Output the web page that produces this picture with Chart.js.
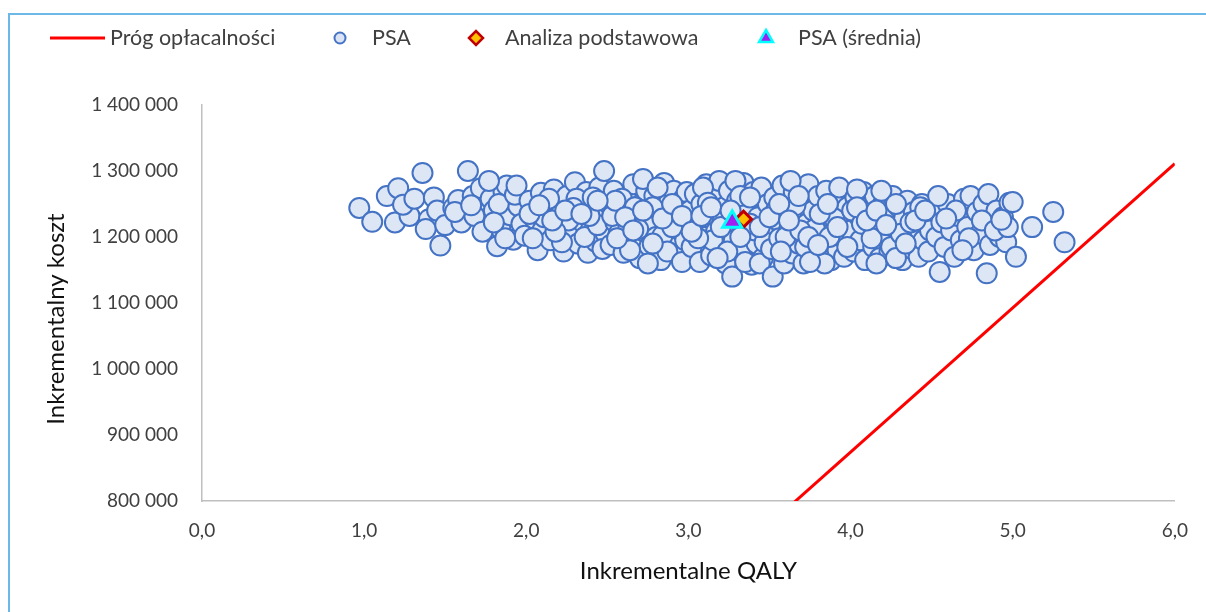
<!DOCTYPE html>
<html lang="pl">
<head>
<meta charset="utf-8">
<title>PSA – płaszczyzna kosztów i efektów</title>
<script src="https://cdn.jsdelivr.net/npm/chart.js@4.4.1/dist/chart.umd.min.js"></script>
<style>
  html, body { margin: 0; padding: 0; background: #fff; }
  #wrap { position: relative; width: 1206px; height: 612px; overflow: hidden; }
  #frame { position: absolute; left: 8px; top: 13px; right: -4px; bottom: -4px;
           border-top: 2px solid #6cb8e6; border-left: 2px solid #6cb8e6; pointer-events: none; }
  canvas { display: block; }
</style>
</head>
<body>
<div id="wrap">
  <canvas id="ce-plane" width="1206" height="612"></canvas>
  <div id="frame"></div>
</div>
<script>
// threshold line endpoints (QALY, PLN)
var lineQaly = [0, 6];
var lineCost = [0, 1311000];

// base case and PSA mean
var baseQaly = [3.34];
var baseCost = [1227000];
var meanQaly = [3.27];
var meanCost = [1223000];

// PSA simulations
var psaQaly = [
  0.97, 1.05, 1.14, 1.21, 1.19, 1.28, 1.24, 1.36, 1.31, 1.43, 1.40, 1.47, 1.45, 1.38, 1.50,
  1.55, 1.58, 1.64, 1.62, 1.67, 1.70, 1.72, 1.75, 1.78, 1.80, 1.82, 1.84, 1.86, 1.88, 1.90, 1.92, 1.95, 1.97, 1.60, 1.68, 1.73, 1.77, 1.83, 1.93, 1.99, 1.56, 1.87, 1.94,
  2.02, 2.05, 2.07, 2.09, 2.10, 2.12, 2.15, 2.17, 2.19, 2.21, 2.23, 2.25, 2.27, 2.28, 2.30, 2.32, 2.33, 2.35, 2.37, 2.38, 2.40, 2.42, 2.43, 2.45, 2.46, 2.48, 2.49, 2.04, 2.14, 2.22, 2.26, 2.31, 2.36, 2.41, 2.44, 2.47, 2.11, 2.18, 2.29, 2.39,
  2.51, 2.52, 2.54, 2.55, 2.57, 2.58, 2.60, 2.62, 2.63, 2.65, 2.66, 2.68, 2.70, 2.71, 2.73, 2.74, 2.76, 2.77, 2.79, 2.80, 2.82, 2.83, 2.85, 2.86, 2.88, 2.89, 2.91, 2.92, 2.94, 2.95, 2.97, 2.98, 2.53, 2.59, 2.64, 2.69, 2.72, 2.78, 2.84, 2.87, 2.93, 2.99, 2.56, 2.67, 2.75, 2.81, 2.90, 2.96,
  3.01, 3.02, 3.04, 3.05, 3.07, 3.08, 3.10, 3.11, 3.13, 3.14, 3.16, 3.17, 3.19, 3.20, 3.22, 3.23, 3.25, 3.26, 3.27, 3.28, 3.30, 3.31, 3.33, 3.34, 3.36, 3.37, 3.39, 3.40, 3.42, 3.43, 3.45, 3.46, 3.48, 3.49, 3.03, 3.09, 3.15, 3.21, 3.24, 3.29, 3.35, 3.41, 3.47, 3.06, 3.12, 3.18, 3.32, 3.38, 3.44,
  3.51, 3.52, 3.53, 3.55, 3.56, 3.58, 3.59, 3.61, 3.62, 3.64, 3.65, 3.67, 3.68, 3.70, 3.71, 3.73, 3.74, 3.76, 3.77, 3.79, 3.80, 3.82, 3.83, 3.85, 3.86, 3.88, 3.89, 3.91, 3.92, 3.94, 3.95, 3.97, 3.98, 3.54, 3.60, 3.66, 3.72, 3.78, 3.84, 3.90, 3.96, 3.57, 3.63, 3.69, 3.75, 3.81, 3.87, 3.93,
  4.00, 4.02, 4.03, 4.05, 4.06, 4.08, 4.09, 4.11, 4.12, 4.14, 4.15, 4.17, 4.18, 4.20, 4.21, 4.23, 4.24, 4.26, 4.27, 4.29, 4.30, 4.32, 4.33, 4.35, 4.36, 4.38, 4.39, 4.41, 4.42, 4.44, 4.45, 4.47, 4.48, 4.01, 4.07, 4.13, 4.19, 4.25, 4.31, 4.37, 4.43, 4.49, 4.04, 4.16, 4.28,
  4.51, 4.53, 4.55, 4.56, 4.58, 4.60, 4.62, 4.64, 4.66, 4.68, 4.70, 4.72, 4.74, 4.76, 4.78, 4.80, 4.82, 4.84, 4.85, 4.86, 4.88, 4.90, 4.92, 4.94, 4.96, 4.98, 4.54, 4.65, 4.73, 4.81, 4.89, 4.97, 4.59, 4.69,
  5.02, 5.00, 4.93, 5.12, 5.25, 5.32,
  2.55, 2.61, 2.66, 2.72, 2.78, 2.84, 2.90, 2.96, 3.02, 3.08, 3.14, 3.20, 3.26, 3.32, 3.38, 3.44, 3.50, 3.56, 3.62, 3.68, 3.74, 3.80, 3.86, 3.92, 3.98,
  4.04, 4.10, 4.16, 4.22, 4.28, 4.34, 4.40, 4.46, 2.02, 2.08, 2.16, 2.24, 2.34, 2.44, 1.80, 1.66
];
var psaCost = [
  1244000, 1223000, 1262000, 1274000, 1222000, 1232000, 1249000, 1297000, 1258000, 1260000, 1227000, 1187000, 1240000, 1212000, 1218000,
  1244000, 1256000, 1300000, 1236000, 1262000, 1248000, 1274000, 1225000, 1258000, 1240000, 1186000, 1213000, 1268000, 1278000, 1233000, 1196000, 1247000, 1220000, 1222000, 1232000, 1208000, 1285000, 1250000, 1264000, 1202000, 1238000, 1198000, 1278000,
  1255000, 1228000, 1180000, 1267000, 1210000, 1240000, 1195000, 1272000, 1222000, 1250000, 1178000, 1262000, 1205000, 1237000, 1283000, 1190000, 1252000, 1222000, 1268000, 1176000, 1212000, 1245000, 1193000, 1275000, 1230000, 1300000, 1205000, 1198000, 1258000, 1192000, 1225000, 1258000, 1200000, 1260000, 1218000, 1182000, 1230000, 1208000, 1244000, 1232000,
  1250000, 1188000, 1270000, 1222000, 1205000, 1240000, 1176000, 1260000, 1215000, 1196000, 1280000, 1232000, 1168000, 1250000, 1208000, 1270000, 1186000, 1225000, 1262000, 1200000, 1240000, 1165000, 1282000, 1218000, 1252000, 1190000, 1270000, 1230000, 1175000, 1210000, 1258000, 1195000, 1232000, 1258000, 1180000, 1212000, 1288000, 1245000, 1202000, 1178000, 1244000, 1268000, 1198000, 1245000, 1160000, 1275000, 1215000, 1162000,
  1240000, 1185000, 1265000, 1215000, 1162000, 1250000, 1200000, 1280000, 1230000, 1172000, 1260000, 1208000, 1285000, 1188000, 1245000, 1160000, 1270000, 1212000, 1140000, 1195000, 1255000, 1225000, 1175000, 1282000, 1205000, 1240000, 1158000, 1268000, 1190000, 1230000, 1275000, 1168000, 1215000, 1250000, 1222000, 1275000, 1195000, 1225000, 1178000, 1285000, 1162000, 1210000, 1192000, 1198000, 1252000, 1168000, 1262000, 1220000, 1160000,
  1182000, 1140000, 1260000, 1225000, 1198000, 1278000, 1160000, 1242000, 1210000, 1175000, 1268000, 1230000, 1190000, 1255000, 1160000, 1220000, 1280000, 1200000, 1240000, 1172000, 1262000, 1212000, 1188000, 1270000, 1232000, 1165000, 1250000, 1205000, 1180000, 1265000, 1225000, 1195000, 1245000, 1240000, 1200000, 1248000, 1185000, 1212000, 1160000, 1228000, 1170000, 1178000, 1285000, 1210000, 1162000, 1235000, 1200000, 1275000,
  1210000, 1178000, 1260000, 1232000, 1195000, 1268000, 1165000, 1245000, 1212000, 1185000, 1262000, 1225000, 1168000, 1250000, 1200000, 1235000, 1178000, 1262000, 1215000, 1190000, 1245000, 1165000, 1228000, 1255000, 1200000, 1182000, 1238000, 1212000, 1170000, 1250000, 1195000, 1228000, 1178000, 1240000, 1220000, 1198000, 1270000, 1185000, 1205000, 1222000, 1245000, 1210000, 1272000, 1160000, 1168000,
  1240000, 1200000, 1147000, 1222000, 1185000, 1250000, 1210000, 1170000, 1232000, 1195000, 1258000, 1215000, 1262000, 1180000, 1238000, 1205000, 1250000, 1145000, 1265000, 1188000, 1225000, 1240000, 1200000, 1230000, 1192000, 1252000, 1262000, 1240000, 1198000, 1225000, 1210000, 1215000, 1228000, 1180000,
  1170000, 1253000, 1226000, 1215000, 1238000, 1192000,
  1255000, 1230000, 1210000, 1240000, 1190000, 1228000, 1250000, 1232000, 1208000, 1232000, 1245000, 1215000, 1240000, 1200000, 1260000, 1215000, 1230000, 1250000, 1225000, 1262000, 1200000, 1188000, 1250000, 1215000, 1185000,
  1245000, 1225000, 1240000, 1218000, 1250000, 1190000, 1225000, 1240000, 1235000, 1248000, 1225000, 1240000, 1235000, 1255000, 1222000, 1248000
];

var xTicks = [0, 1, 2, 3, 4, 5, 6];
var yTicks = [800000, 900000, 1000000, 1100000, 1200000, 1300000, 1400000];
var yTitle = 'Inkrementalny koszt';

function toPoints(xs, ys) {
  return xs.map(function (x, i) { return { x: x, y: ys[i] }; });
}

function plNumber(v) {
  return String(Math.round(v)).replace(/\B(?=(\d{3})+(?!\d))/g, ' ');
}

var FONT = 'Lato, "Open Sans", sans-serif';
Chart.defaults.font.family = FONT;

// legend entries, with marker and text x positions as in the original
var legendItems = [
  { label: 'Próg opłacalności', kind: 'line', color: '#FF0000', mx: 50, tx: 110 },
  { label: 'PSA', style: 'circle', radius: 5.5, fill: '#DAE3F3', stroke: '#4472C4', width: 2, mx: 340, tx: 372 },
  { label: 'Analiza podstawowa', style: 'rectRot', radius: 7, fill: '#FFC000', stroke: '#C00000', width: 2.5, mx: 476, tx: 505 },
  { label: 'PSA (średnia)', style: 'triangle', radius: 8, fill: '#A020F0', stroke: '#00FFFF', width: 2.5, mx: 766, tx: 798 }
];

// legend row + y title drawn like the excel original
var excelBits = {
  id: 'excelBits',
  afterDraw: function (chart) {
    var ctx = chart.ctx;
    var y = 38;
    ctx.save();
    ctx.font = '21.5px ' + FONT;
    ctx.textBaseline = 'middle';
    ctx.textAlign = 'left';
    legendItems.forEach(function (it) {
      if (it.kind === 'line') {
        ctx.strokeStyle = it.color;
        ctx.lineWidth = 3;
        ctx.beginPath();
        ctx.moveTo(it.mx, y);
        ctx.lineTo(it.mx + 55, y);
        ctx.stroke();
      } else {
        ctx.fillStyle = it.fill;
        ctx.strokeStyle = it.stroke;
        ctx.lineWidth = it.width;
        Chart.helpers.drawPoint(ctx, { pointStyle: it.style, radius: it.radius, rotation: 0, borderWidth: it.width }, it.mx, y);
      }
      ctx.fillStyle = '#404040';
      ctx.fillText(it.label, it.tx, y);
    });

    ctx.translate(56, 319);
    ctx.rotate(-Math.PI / 2);
    ctx.textAlign = 'center';
    ctx.font = '24px ' + FONT;
    ctx.fillStyle = '#111';
    ctx.fillText(yTitle, 0, 0);
    ctx.restore();
  }
};

new Chart(document.getElementById('ce-plane'), {
  type: 'scatter',
  data: {
    datasets: [
      {
        label: 'PSA (średnia)',
        data: toPoints(meanQaly, meanCost),
        pointStyle: 'triangle',
        pointRadius: 11,
        backgroundColor: '#A020F0',
        borderColor: '#00FFFF',
        borderWidth: 3,
        order: 0
      },
      {
        label: 'Analiza podstawowa',
        data: toPoints(baseQaly, baseCost),
        pointStyle: 'rectRot',
        pointRadius: 8,
        backgroundColor: '#FFC000',
        borderColor: '#C00000',
        borderWidth: 3,
        order: 1
      },
      {
        label: 'PSA',
        data: toPoints(psaQaly, psaCost),
        pointStyle: 'circle',
        pointRadius: 10,
        backgroundColor: '#DCE6F4',
        borderColor: '#4472C4',
        borderWidth: 2,
        order: 2
      },
      {
        label: 'Próg opłacalności',
        type: 'line',
        data: toPoints(lineQaly, lineCost),
        borderColor: '#FF0000',
        borderWidth: 3,
        pointRadius: 0,
        fill: false,
        order: 3
      }
    ]
  },
  options: {
    responsive: false,
    animation: false,
    events: [],
    layout: { padding: { top: 105, right: 30, bottom: 0, left: 0 } },
    plugins: {
      legend: { display: false },
      tooltip: { enabled: false }
    },
    scales: {
      x: {
        type: 'linear',
        min: 0,
        max: 6,
        afterFit: function (scale) { scale.height = 111; },
        afterBuildTicks: function (scale) { scale.ticks = xTicks.map(function (v) { return { value: v }; }); },
        grid: { display: false, drawTicks: false },
        border: { display: true, color: '#BFBFBF', width: 1.5 },
        ticks: {
          padding: 18,
          color: '#404040',
          font: { size: 19 },
          callback: function (v) { return Number(v).toFixed(1).replace('.', ','); }
        },
        title: {
          display: true,
          text: 'Inkrementalne QALY',
          color: '#111',
          font: { size: 24 },
          padding: { top: 0, bottom: 26 }
        }
      },
      y: {
        type: 'linear',
        min: 800000,
        max: 1400000,
        afterFit: function (scale) { scale.width = 202; },
        afterBuildTicks: function (scale) { scale.ticks = yTicks.map(function (v) { return { value: v }; }); },
        grid: { display: false, drawTicks: false },
        border: { display: true, color: '#BFBFBF', width: 1.5 },
        ticks: {
          padding: 24,
          color: '#404040',
          font: { size: 19 },
          callback: function (v) { return plNumber(v); }
        },
        title: { display: false }
      }
    }
  },
  plugins: [excelBits]
});
</script>
</body>
</html>
